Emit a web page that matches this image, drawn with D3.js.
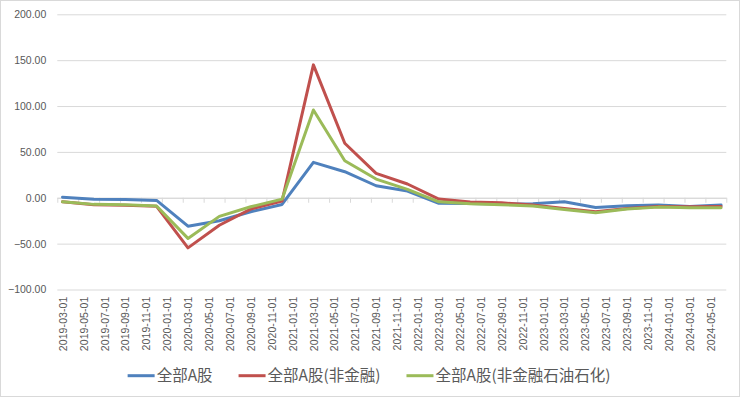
<!DOCTYPE html>
<html>
<head>
<meta charset="utf-8">
<script src="https://cdn.jsdelivr.net/npm/d3@7"></script>
<style>
  body { margin: 0; background: #fff; }
  text { fill: #595959; }
</style>
</head>
<body>
<script>
// quarterly observations (month of the data point)
var months = ["2019-03", "2019-06", "2019-09", "2019-12",
              "2020-03", "2020-06", "2020-09", "2020-12",
              "2021-03", "2021-06", "2021-09", "2021-12",
              "2022-03", "2022-06", "2022-09", "2022-12",
              "2023-03", "2023-06", "2023-09", "2023-12",
              "2024-03", "2024-06"];

var allA = [0.6, -1.5, -1.8, -2.9, -31, -25, -15.3, -7.3, 38.6, 28.4, 13.1, 7.3,
            -6.1, -6.2, -6.8, -6.6, -4.4, -10.5, -8.7, -8, -9.5, -8];
var nonFin = [-4.4, -7.5, -8.2, -9.3, -54.6, -30, -12.3, -3.6, 144.9, 59.4, 26.6, 15,
              -1.4, -4.5, -5.5, -7.8, -11.6, -15.3, -11.6, -9.5, -9.8, -9.5];
var nonFinOil = [-4.4, -7.2, -7.6, -9, -44.3, -20.3, -9.8, -1.5, 95.7, 40.4, 20.4, 9.2,
                 -4.4, -6.5, -7.6, -9, -12.7, -16.4, -12.3, -10.2, -10.9, -11];

var seriesNames = ["全部A股", "全部A股(非金融)", "全部A股(非金融石油石化)"];
var seriesColors = ["#4F81BD", "#C0504D", "#9BBB59"];

var xLabels = ["2019-03-01", "2019-05-01", "2019-07-01", "2019-09-01", "2019-11-01",
               "2020-01-01", "2020-03-01", "2020-05-01", "2020-07-01", "2020-09-01", "2020-11-01",
               "2021-01-01", "2021-03-01", "2021-05-01", "2021-07-01", "2021-09-01", "2021-11-01",
               "2022-01-01", "2022-03-01", "2022-05-01", "2022-07-01", "2022-09-01", "2022-11-01",
               "2023-01-01", "2023-03-01", "2023-05-01", "2023-07-01", "2023-09-01", "2023-11-01",
               "2024-01-01", "2024-03-01", "2024-05-01"];
var yTicks = [-100, -50, 0, 50, 100, 150, 200];

const w = 740;
const h = 397;
const plotLeft = 57.3, plotRight = 726.3, plotTop = 14.3, plotBottom = 289.5;

// month slot index counted from 2019-03
function monthIndex(s) {
  var p = s.split("-");
  return (+p[0] - 2019) * 12 + (+p[1] - 3);
}

var svg = d3.select("body").append("svg")
            .attr("width", w)
            .attr("height", h);

svg.append("rect")
   .attr("x", 0.5).attr("y", 0.5)
   .attr("width", w - 1).attr("height", h - 1)
   .attr("fill", "#fff")
   .attr("stroke", "#d9d9d9");

var xScale = d3.scaleLinear().domain([-0.5, 63.5]).range([plotLeft, plotRight]);
var yScale = d3.scaleLinear().domain([-100, 200]).range([plotBottom, plotTop]);

// gridlines + y labels
var yAxis = svg.append("g")
   .attr("transform", "translate(" + plotLeft + ",0)")
   .call(d3.axisLeft(yScale)
           .tickValues(yTicks)
           .tickSize(-(plotRight - plotLeft))
           .tickPadding(11)
           .tickFormat(d3.format(".2f")));
yAxis.select(".domain").remove();
yAxis.selectAll("line").attr("stroke", "#d9d9d9");
yAxis.selectAll("text")
     .style("font-family", "Liberation Sans, Arial, sans-serif")
     .style("font-size", "10.5px")
     .attr("fill", "#595959");

// category axis line at zero with tick marks between slots
var tickPos = d3.range(0, 33).map(function(k) { return -0.5 + 2 * k; });
var zeroAxis = svg.append("g")
   .attr("transform", "translate(0," + yScale(0) + ")")
   .call(d3.axisBottom(xScale)
           .tickValues(tickPos)
           .tickSizeInner(5)
           .tickSizeOuter(0)
           .tickFormat(""));
zeroAxis.select(".domain").attr("stroke", "#d9d9d9");
zeroAxis.selectAll("line").attr("stroke", "#d9d9d9");

// x labels at the bottom, rotated
var labelAxis = svg.append("g")
   .attr("transform", "translate(0," + plotBottom + ")")
   .call(d3.axisBottom(xScale)
           .tickValues(xLabels.map(function(d) { return monthIndex(d.slice(0, 7)); }))
           .tickSize(0)
           .tickFormat(function(d, i) { return xLabels[i]; }));
labelAxis.select(".domain").remove();
labelAxis.selectAll("text")
   .attr("transform", "rotate(-90)")
   .attr("x", -7)
   .attr("y", 0)
   .attr("dy", "0.35em")
   .style("text-anchor", "end")
   .style("font-family", "Liberation Sans, Arial, sans-serif")
   .style("font-size", "10.5px")
   .style("letter-spacing", "0.1px")
   .attr("fill", "#595959");

// lines
var line = d3.line()
   .x(function(d, i) { return xScale(monthIndex(months[i])); })
   .y(function(d) { return yScale(d); });

[allA, nonFin, nonFinOil].forEach(function(s, k) {
  svg.append("path")
     .datum(s)
     .attr("d", line)
     .attr("fill", "none")
     .attr("stroke", seriesColors[k])
     .attr("stroke-width", 3)
     .attr("stroke-linejoin", "round")
     .attr("stroke-linecap", "round");
});

// legend
var legend = svg.append("g");
var lx = 0;
seriesNames.forEach(function(name, k) {
  var g = legend.append("g").attr("transform", "translate(" + lx + ",0)");
  g.append("line")
   .attr("x1", 0).attr("x2", 27)
   .attr("y1", 0).attr("y2", 0)
   .attr("stroke", seriesColors[k])
   .attr("stroke-width", 3);
  var t = g.append("text")
   .attr("x", 29)
   .attr("dy", "0.35em")
   .style("font-family", "Noto Sans CJK SC, sans-serif")
   .style("font-size", "15.5px")
   .attr("fill", "#595959")
   .text(name);
  lx += 29 + t.node().getComputedTextLength() + 26;
});
var legendW = lx - 26;
legend.attr("transform", "translate(" + (369 - legendW / 2) + ",375.7)");
</script>
</body>
</html>
